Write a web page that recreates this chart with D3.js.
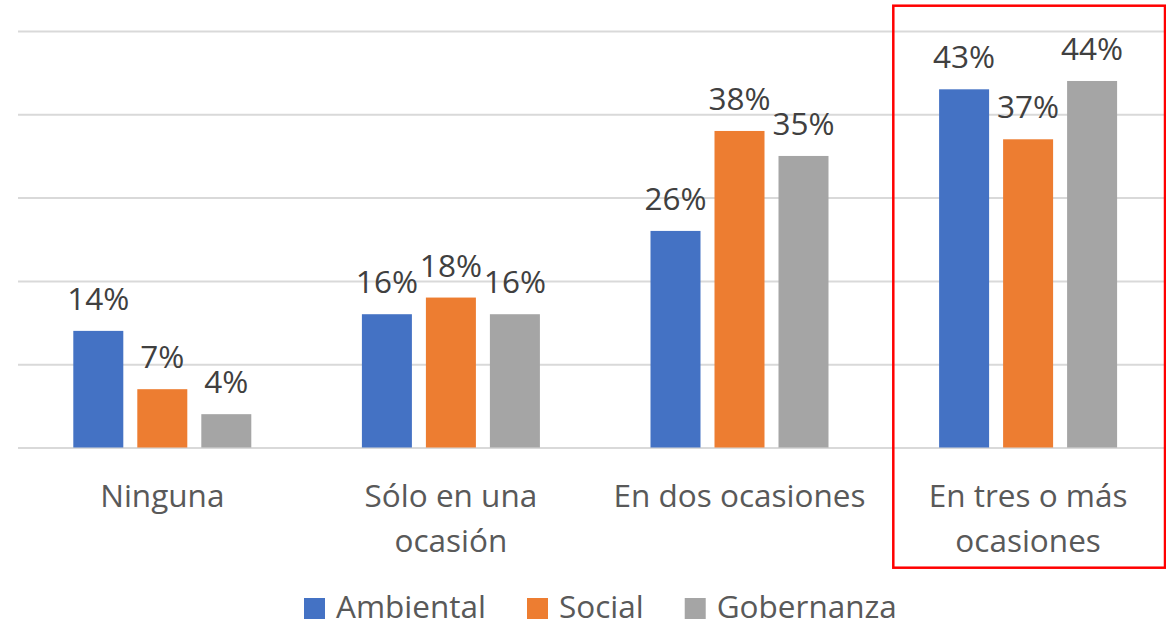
<!DOCTYPE html>
<html>
<head>
<meta charset="utf-8">
<script src="https://cdn.jsdelivr.net/npm/d3@7"></script>
<style>
  html, body { margin: 0; padding: 0; background: #fff; }
  svg { display: block; font-family: "Open Sans", "Noto Sans", sans-serif; }
</style>
</head>
<body>
<svg id="chart" width="1166" height="627"></svg>
<script>
// Categories, series and values (percent)
const categories = ["Ninguna", "Sólo en una ocasión", "En dos ocasiones", "En tres o más ocasiones"];
const seriesNames = ["Ambiental", "Social", "Gobernanza"];
const ambiental = [14, 16, 26, 43];
const social = [7, 18, 38, 37];
const gobernanza = [4, 16, 35, 44];
const gridTicks = [0, 10, 20, 30, 40, 50];
const highlighted = "En tres o más ocasiones";

const seriesValues = [ambiental, social, gobernanza];
const colors = ["#4472C4", "#ED7D31", "#A5A5A5"];

const svg = d3.select("#chart");
const plotLeft = 18, bandStep = 288.6;
const plotRight = plotLeft + bandStep * categories.length;
const plotTop = 31, plotBottom = 447.5;

const x0 = d3.scaleBand().domain(categories).range([plotLeft, plotRight]).padding(0);
const clusterW = 178;
const x1 = d3.scaleBand().domain(seriesNames)
  .range([(x0.bandwidth() - clusterW) / 2, (x0.bandwidth() + clusterW) / 2])
  .paddingInner(14 / 64).paddingOuter(0);
const y = d3.scaleLinear().domain([0, 50]).range([plotBottom, plotTop]);
const color = d3.scaleOrdinal().domain(seriesNames).range(colors);

// Horizontal gridlines
const grid = svg.append("g").attr("transform", `translate(${plotLeft},0)`)
  .call(d3.axisLeft(y).tickValues(gridTicks).tickSize(-(1166 - plotLeft)).tickFormat(""));
grid.select(".domain").remove();
grid.selectAll(".tick line").attr("stroke", "#D9D9D9").attr("stroke-width", 2);

// Bars
const rows = categories.map((c, i) => ({
  cat: c,
  vals: seriesNames.map((s, j) => ({ series: s, value: seriesValues[j][i] }))
}));

const groups = svg.append("g").selectAll("g").data(rows).join("g")
  .attr("transform", d => `translate(${x0(d.cat)},0)`);

groups.selectAll("rect").data(d => d.vals).join("rect")
  .attr("x", d => x1(d.series))
  .attr("width", x1.bandwidth())
  .attr("y", d => y(d.value))
  .attr("height", d => y(0) - y(d.value))
  .attr("fill", d => color(d.series));

groups.selectAll("text").data(d => d.vals).join("text")
  .attr("x", d => x1(d.series) + x1.bandwidth() / 2)
  .attr("y", d => y(d.value) - 21)
  .attr("text-anchor", "middle")
  .attr("font-size", 31.5)
  .attr("fill", "#404040")
  .text(d => d.value + "%");

// Category axis with wrapped labels
const xAxis = svg.append("g").attr("transform", `translate(0,${plotBottom})`)
  .call(d3.axisBottom(x0).tickSize(0).tickPadding(0));
xAxis.select(".domain").remove();
xAxis.selectAll(".tick text")
  .attr("font-size", 31.5)
  .attr("fill", "#595959")
  .attr("font-family", "'Open Sans', 'Noto Sans', sans-serif")
  .attr("dy", null)
  .attr("y", 0)
  .each(function (d) {
    const t = d3.select(this);
    const words = d.split(" ");
    t.text(null);
    const lines = [];
    let line = [];
    const probe = t.append("tspan");
    for (const w of words) {
      line.push(w);
      probe.text(line.join(" "));
      if (probe.node().getComputedTextLength() > 265 && line.length > 1) {
        line.pop();
        lines.push(line.join(" "));
        line = [w];
      }
    }
    lines.push(line.join(" "));
    probe.remove();
    lines.forEach((l, i) => {
      t.append("tspan").attr("x", 0).attr("y", 59.5 + i * 44.5).text(l);
    });
  });

// Highlight box around the last category
const hx = x0(highlighted) + 9.5;
svg.append("rect")
  .attr("x", hx).attr("y", 5.7)
  .attr("width", 1165 - hx).attr("height", 562)
  .attr("fill", "none").attr("stroke", "#FF0000").attr("stroke-width", 2.5);

// Legend
const legend = svg.append("g").attr("transform", "translate(304,0)");
let lx = 0;
seriesNames.forEach(s => {
  const g = legend.append("g").attr("transform", `translate(${lx},0)`);
  g.append("rect").attr("x", 0).attr("y", 598).attr("width", 21).attr("height", 21)
    .attr("fill", color(s));
  const t = g.append("text").attr("x", 32).attr("y", 618)
    .attr("font-size", 31.5).attr("fill", "#595959").text(s);
  lx += 32 + t.node().getComputedTextLength() + 41;
});
</script>
</body>
</html>
